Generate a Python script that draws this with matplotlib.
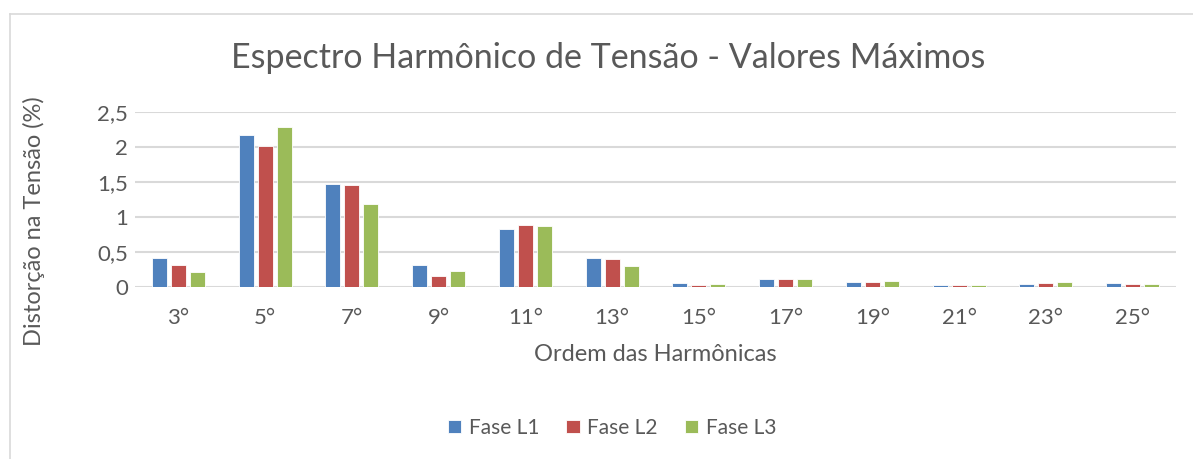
import matplotlib.pyplot as plt
import numpy as np
from matplotlib.lines import Line2D

plt.rcParams['font.family'] = 'sans-serif'
plt.rcParams['font.sans-serif'] = 'Lato'

# harmonic orders and maximum voltage distortion per phase (%)
orders = ['3°', '5°', '7°', '9°', '11°', '13°', '15°', '17°', '19°', '21°', '23°', '25°']
fase_l1 = [0.41, 2.18, 1.47, 0.31, 0.83, 0.41, 0.06, 0.11, 0.07, 0.02, 0.04, 0.06]
fase_l2 = [0.31, 2.02, 1.46, 0.16, 0.89, 0.39, 0.03, 0.11, 0.07, 0.03, 0.05, 0.04]
fase_l3 = [0.21, 2.29, 1.18, 0.22, 0.87, 0.30, 0.04, 0.11, 0.08, 0.02, 0.07, 0.04]
y_ticks = [0, 0.5, 1, 1.5, 2, 2.5]
y_tick_labels = ['0', '0,5', '1', '1,5', '2', '2,5']

text_color = '#595959'
grid_color = '#D9D9D9'

fig = plt.figure(figsize=(11.93, 4.59), dpi=100)
ax = fig.add_axes([0.1132, 0.3754, 0.8725, 0.3799])

x = np.arange(len(orders))
width = 0.173
step = 0.22
series = [(fase_l1, 'Fase L1', '#4F81BD'),
          (fase_l2, 'Fase L2', '#C0504D'),
          (fase_l3, 'Fase L3', '#9BBB59')]
for i, (vals, label, color) in enumerate(series):
    ax.bar(x + (i - 1) * step, vals, width=width, color=color, label=label,
           edgecolor='white', linewidth=0.6, zorder=3)

ax.set_xlim(-0.5, len(orders) - 0.5)
ax.set_ylim(0, 2.5)
ax.set_yticks(y_ticks, y_tick_labels)
ax.set_xticks(x, orders)
ax.tick_params(axis='both', length=0, labelsize=16, colors=text_color)
ax.tick_params(axis='x', pad=15)
ax.tick_params(axis='y', pad=5)

for spine in ['top', 'right', 'left', 'bottom']:
    ax.spines[spine].set_visible(False)
ax.grid(axis='y', color=grid_color, linewidth=1.5, zorder=0)
ax.set_axisbelow(True)

ax.set_xlabel('Ordem das Harmônicas', fontsize=17, color=text_color, labelpad=12)
ax.set_ylabel('Distorção na Tensão (%)', fontsize=17, color=text_color)
ax.yaxis.set_label_coords(-0.0865, 0.377)

fig.text(0.51, 0.874, 'Espectro Harmônico de Tensão - Valores Máximos',
         ha='center', va='center', fontsize=24.5, color=text_color)

leg = fig.legend(loc='center', bbox_to_anchor=(0.513, 0.068), ncol=3, frameon=False,
                 fontsize=15, handlelength=0.65, handleheight=0.65, handletextpad=0.35,
                 columnspacing=1.3)
for t in leg.get_texts():
    t.set_color(text_color)

# light frame around the chart area
fig.add_artist(Line2D([9.5 / 1193, 9.5 / 1193], [0, 1 - 14 / 459],
                      transform=fig.transFigure, color='#D9D9D9', linewidth=1.2))
fig.add_artist(Line2D([9.5 / 1193, 1], [1 - 14 / 459, 1 - 14 / 459],
                      transform=fig.transFigure, color='#D9D9D9', linewidth=1.2))

fig.savefig('out.png', dpi=100)
plt.close()
